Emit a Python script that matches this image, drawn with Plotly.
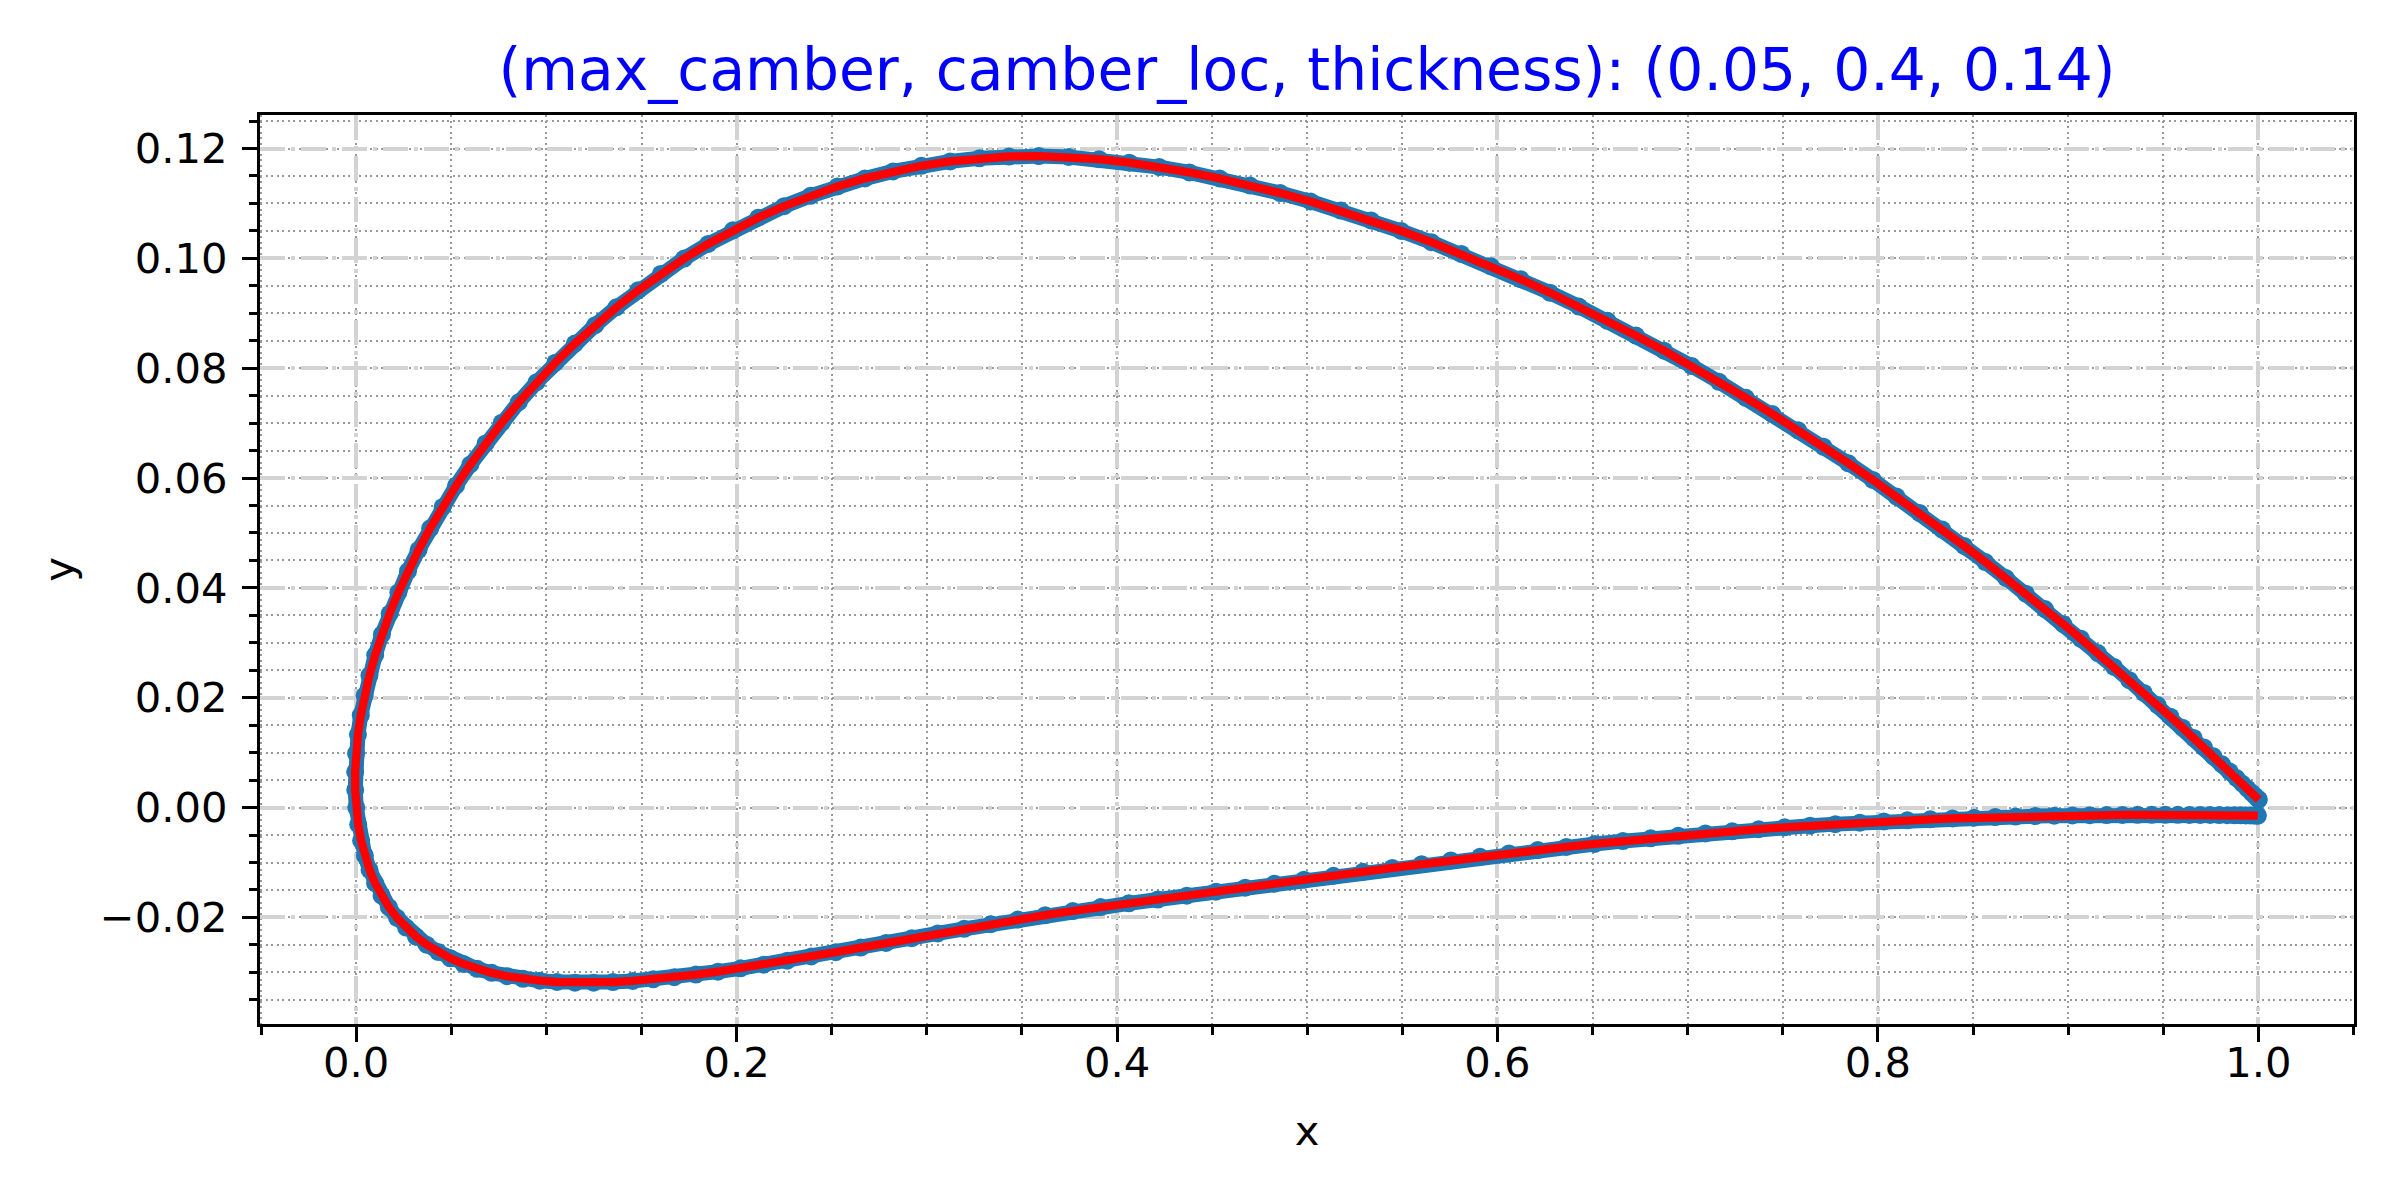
import plotly.graph_objects as go

# NACA 5414 section (max_camber 0.05, camber_loc 0.4, thickness 0.14)
# upper surface, leading edge -> trailing edge
x_upper = [0.0, -0.00054, -0.00057, -0.00010, 0.00089, 0.00239, 0.00440, 0.00693, 0.00996, 0.01351,
           0.01757, 0.02214, 0.02721, 0.03278, 0.03885, 0.04542, 0.05247, 0.06001, 0.06802, 0.07650,
           0.08545, 0.09484, 0.10468, 0.11495, 0.12565, 0.13675, 0.14826, 0.16015, 0.17241, 0.18504,
           0.19801, 0.21131, 0.22492, 0.23883, 0.25302, 0.26748, 0.28219, 0.29712, 0.31227, 0.32761,
           0.34313, 0.35880, 0.37461, 0.39054, 0.40643, 0.42219, 0.43802, 0.45390, 0.46982, 0.48577,
           0.50172, 0.51765, 0.53356, 0.54942, 0.56522, 0.58095, 0.59658, 0.61211, 0.62751, 0.64277,
           0.65787, 0.67281, 0.68757, 0.70212, 0.71646, 0.73058, 0.74446, 0.75808, 0.77144, 0.78452,
           0.79731, 0.80979, 0.82197, 0.83381, 0.84532, 0.85649, 0.86729, 0.87773, 0.88780, 0.89748,
           0.90676, 0.91565, 0.92412, 0.93218, 0.93981, 0.94702, 0.95379, 0.96011, 0.96599, 0.97141,
           0.97638, 0.98089, 0.98494, 0.98851, 0.99162, 0.99425, 0.99640, 0.99808, 0.99928, 1.00000,
           1.00024]
y_upper = [0.0, 0.00321, 0.00650, 0.00986, 0.01331, 0.01682, 0.02041, 0.02406, 0.02777, 0.03153,
           0.03534, 0.03918, 0.04305, 0.04694, 0.05084, 0.05474, 0.05862, 0.06248, 0.06631, 0.07008,
           0.07380, 0.07745, 0.08101, 0.08448, 0.08784, 0.09108, 0.09419, 0.09716, 0.09997, 0.10262,
           0.10510, 0.10739, 0.10949, 0.11139, 0.11309, 0.11456, 0.11582, 0.11685, 0.11765, 0.11821,
           0.11854, 0.11862, 0.11846, 0.11805, 0.11742, 0.11661, 0.11564, 0.11454, 0.11328, 0.11188,
           0.11035, 0.10869, 0.10689, 0.10498, 0.10295, 0.10080, 0.09855, 0.09620, 0.09376, 0.09123,
           0.08862, 0.08594, 0.08319, 0.08038, 0.07752, 0.07461, 0.07166, 0.06869, 0.06569, 0.06268,
           0.05965, 0.05663, 0.05362, 0.05062, 0.04765, 0.04470, 0.04180, 0.03894, 0.03614, 0.03340,
           0.03073, 0.02813, 0.02562, 0.02320, 0.02088, 0.01866, 0.01655, 0.01456, 0.01269, 0.01095,
           0.00934, 0.00787, 0.00655, 0.00537, 0.00434, 0.00346, 0.00274, 0.00218, 0.00177, 0.00153,
           0.00145]

# lower surface, leading edge -> trailing edge
x_lower = [0.0, 0.00103, 0.00255, 0.00453, 0.00699, 0.00992, 0.01331, 0.01716, 0.02145, 0.02620,
           0.03138, 0.03698, 0.04302, 0.04947, 0.05632, 0.06358, 0.07122, 0.07925, 0.08765, 0.09642,
           0.10554, 0.11500, 0.12481, 0.13494, 0.14538, 0.15614, 0.16720, 0.17854, 0.19016, 0.20205,
           0.21421, 0.22661, 0.23926, 0.25213, 0.26522, 0.27853, 0.29204, 0.30573, 0.31961, 0.33365,
           0.34786, 0.36221, 0.37670, 0.39132, 0.40619, 0.42138, 0.43665, 0.45199, 0.46739, 0.48282,
           0.49829, 0.51376, 0.52923, 0.54469, 0.56011, 0.57548, 0.59080, 0.60604, 0.62118, 0.63622,
           0.65114, 0.66593, 0.68056, 0.69503, 0.70932, 0.72341, 0.73730, 0.75096, 0.76439, 0.77757,
           0.79048, 0.80311, 0.81546, 0.82750, 0.83922, 0.85062, 0.86168, 0.87238, 0.88272, 0.89268,
           0.90226, 0.91144, 0.92021, 0.92856, 0.93649, 0.94399, 0.95104, 0.95764, 0.96379, 0.96947,
           0.97467, 0.97940, 0.98365, 0.98741, 0.99067, 0.99344, 0.99571, 0.99748, 0.99875, 0.99951,
           0.99976]
y_lower = [0.0, -0.00308, -0.00600, -0.00876, -0.01135, -0.01377, -0.01603, -0.01813, -0.02007, -0.02185,
           -0.02348, -0.02495, -0.02627, -0.02744, -0.02847, -0.02935, -0.03009, -0.03070, -0.03117, -0.03152,
           -0.03175, -0.03187, -0.03187, -0.03176, -0.03156, -0.03126, -0.03087, -0.03041, -0.02987, -0.02926,
           -0.02859, -0.02788, -0.02711, -0.02632, -0.02549, -0.02464, -0.02379, -0.02292, -0.02207, -0.02122,
           -0.02039, -0.01959, -0.01883, -0.01811, -0.01743, -0.01674, -0.01603, -0.01531, -0.01459, -0.01386,
           -0.01313, -0.01241, -0.01169, -0.01099, -0.01030, -0.00962, -0.00897, -0.00835, -0.00774, -0.00716,
           -0.00662, -0.00610, -0.00560, -0.00514, -0.00471, -0.00431, -0.00394, -0.00360, -0.00329, -0.00301,
           -0.00275, -0.00252, -0.00232, -0.00214, -0.00198, -0.00185, -0.00173, -0.00163, -0.00155, -0.00148,
           -0.00143, -0.00139, -0.00136, -0.00134, -0.00132, -0.00132, -0.00132, -0.00132, -0.00133, -0.00134,
           -0.00135, -0.00137, -0.00138, -0.00140, -0.00141, -0.00142, -0.00143, -0.00144, -0.00145, -0.00145,
           -0.00145]

x_ticks = [0.0, 0.2, 0.4, 0.6, 0.8, 1.0]
x_ticktext = ['0.0', '0.2', '0.4', '0.6', '0.8', '1.0']
y_ticks = [-0.02, 0.0, 0.02, 0.04, 0.06, 0.08, 0.10, 0.12]
y_ticktext = ['\u22120.02', '0.00', '0.02', '0.04', '0.06', '0.08', '0.10', '0.12']

title = '(max_camber, camber_loc, thickness): (0.05, 0.4, 0.14)'

# trailing edge upper -> leading edge -> trailing edge lower
xs = x_upper[::-1] + x_lower[1:]
ys = y_upper[::-1] + y_lower[1:]

font = 'DejaVu Sans'
blue = '#1f77b4'

fig = go.Figure()
fig.add_trace(go.Scatter(x=xs, y=ys, mode='lines+markers',
                         line=dict(color=blue, width=15),
                         marker=dict(color=blue, size=18)))
fig.add_trace(go.Scatter(x=xs, y=ys, mode='lines', line=dict(color='red', width=8.3)))

major_grid = dict(showgrid=True, gridcolor='#d3d3d3', gridwidth=4.2, griddash='25px,6px,4px,6px')
axis_common = dict(showline=True, linecolor='black', linewidth=3.3, mirror=True,
                   ticks='outside', ticklen=15, tickwidth=3.3, tickcolor='black',
                   tickfont=dict(family=font, size=41.7, color='black'),
                   zeroline=False, **major_grid)

fig.update_xaxes(range=[-0.0506, 1.0503], tickmode='array', tickvals=x_ticks, ticktext=x_ticktext,
                 ticklabelstandoff=-15,
                 title=dict(text='x', font=dict(family=font, size=41.7, color='black'), standoff=30),
                 minor=dict(tickmode='linear', tick0=0, dtick=0.05, ticks='outside', ticklen=8.3,
                            tickwidth=2.5, tickcolor='black', showgrid=True, gridcolor='#999999',
                            gridwidth=2, griddash='2px,3.5px'),
                 **axis_common)
fig.update_yaxes(range=[-0.0394, 0.1261], tickmode='array', tickvals=y_ticks, ticktext=y_ticktext,
                 ticklabelstandoff=6,
                 title=dict(text='y', font=dict(family=font, size=41.7, color='black'), standoff=14),
                 minor=dict(tickmode='linear', tick0=0, dtick=0.005, ticks='outside', ticklen=8.3,
                            tickwidth=2.5, tickcolor='black', showgrid=True, gridcolor='#999999',
                            gridwidth=2, griddash='2px,3.5px'),
                 **axis_common)

# the page body adds an 8px offset, so the figure is 8px smaller and margins shifted
fig.update_layout(
    width=2392, height=1192,
    margin=dict(l=252, r=46, t=107, b=176, autoexpand=False),
    paper_bgcolor='white', plot_bgcolor='white',
    showlegend=False,
    title=dict(text=title, x=0.5, xref='paper', y=0.948, yref='container', yanchor='middle',
               font=dict(family=font, size=58.3, color='blue')),
)

fig.write_html('out.html')
